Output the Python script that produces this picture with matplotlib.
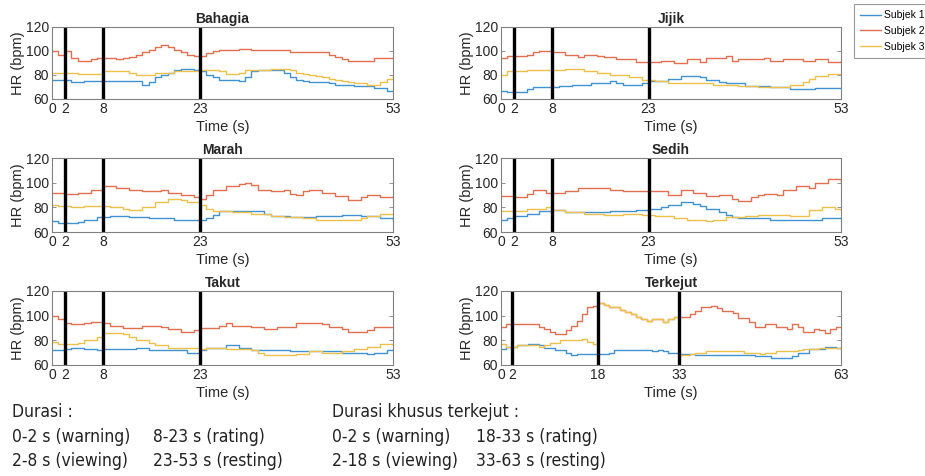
import numpy as np
import matplotlib
matplotlib.use("Agg")
import matplotlib.pyplot as plt
from matplotlib import font_manager

# data (bpm, one value per second)
bahagia_s1 = [76,76,76,74,74,75,75,75,75,75,75,75,75,75,72,74,78,80,82,84,85,85,84,83,80,78,76,76,76,75,78,83,84,84,84,84,82,78,76,75,74,74,74,73,72,72,72,71,71,71,69,69,67,67]
bahagia_s2 = [100,97,100,94,92,92,93,94,94,94,93,94,95,97,99,101,103,105,103,101,99,97,96,96,98,100,101,101,101,102,102,101,101,101,101,101,101,99,99,99,99,99,99,97,95,93,92,92,92,92,94,94,94,94]
bahagia_s3 = [82,82,82,82,81,81,81,81,83,83,83,83,82,80,80,80,82,82,82,83,83,83,83,84,84,84,83,81,81,82,84,84,84,84,85,85,85,84,82,81,80,79,78,77,76,75,74,73,73,72,72,74,77,80]

jijik_s1 = [67,66,66,66,68,70,70,70,70,71,71,72,72,72,73,73,73,75,73,72,72,72,73,75,75,75,77,77,79,79,79,78,76,76,74,73,73,73,71,71,71,71,70,70,70,68,68,68,68,69,69,69,69,69]
jijik_s2 = [94,96,96,96,97,99,100,100,99,99,97,97,95,97,97,96,95,95,93,93,93,91,91,91,91,92,92,90,90,93,93,91,94,94,94,96,92,93,93,93,93,94,92,92,93,93,93,92,92,93,93,91,91,92]
jijik_s3 = [80,83,83,83,84,84,84,84,84,84,85,85,85,83,83,82,82,80,80,80,78,78,76,76,75,75,73,73,73,73,73,73,73,72,72,72,72,71,71,71,70,70,70,70,70,72,72,74,77,79,79,81,81,81]

marah_s1 = [69,67,67,67,68,70,70,72,72,73,73,73,72,72,72,71,71,71,71,70,70,70,70,70,71,74,77,77,77,77,77,77,77,75,73,73,73,72,72,72,72,73,73,73,73,74,74,74,73,73,73,71,71,70]
marah_s2 = [92,92,91,91,92,92,94,94,97,97,96,96,94,94,93,93,93,94,92,92,90,90,88,87,90,94,94,97,97,99,100,98,94,94,93,93,94,91,90,93,94,94,92,92,89,89,86,86,88,90,90,88,88,89]
marah_s3 = [82,81,81,80,80,81,81,81,81,80,80,79,78,78,80,80,84,84,87,87,86,84,84,82,79,77,77,77,76,76,76,75,75,75,73,73,72,72,72,71,71,70,70,70,70,70,70,70,71,73,73,75,75,75]

sedih_s1 = [70,71,73,73,75,75,77,77,78,78,76,76,76,76,76,76,76,77,77,77,77,78,78,79,79,80,82,82,84,84,83,81,79,79,76,74,72,71,71,71,71,71,70,70,70,70,70,70,70,70,71,71,71,71]
sedih_s2 = [89,89,88,88,91,94,94,92,92,92,93,93,96,96,96,96,96,94,94,93,93,93,93,93,93,93,90,90,94,94,92,92,89,89,90,90,87,85,85,88,90,91,91,90,94,94,97,97,96,100,100,103,103,100]
sedih_s3 = [77,77,77,77,79,79,79,80,78,78,76,76,76,75,75,75,74,74,74,75,75,75,74,74,73,73,73,71,71,70,70,70,69,70,70,72,72,72,73,73,74,74,74,74,74,73,73,73,78,78,80,80,79,78]

takut_s1 = [72,72,73,74,74,73,73,72,73,73,73,73,73,74,74,72,72,72,72,72,72,70,70,72,74,74,74,76,76,74,74,72,72,72,72,72,72,71,71,71,71,71,71,71,71,70,70,70,70,69,70,70,72,72]
takut_s2 = [100,97,94,93,93,94,95,95,94,92,92,90,90,90,92,92,92,91,89,89,87,87,88,90,90,90,92,94,92,92,92,91,91,89,89,91,91,91,94,94,94,94,93,91,91,89,87,87,87,88,91,91,91,91]
takut_s3 = [79,77,77,77,78,80,80,83,86,86,86,85,83,80,80,78,76,76,74,74,74,74,74,73,74,74,74,73,73,73,73,72,70,68,68,68,68,68,69,69,71,71,70,70,70,71,71,73,73,75,75,77,77,77]

terkejut_s1 = [73,75,75,76,76,77,77,76,74,74,72,72,70,68,69,69,69,69,69,69,70,72,72,72,72,72,72,72,71,72,71,70,70,69,69,69,68,68,68,68,68,68,68,68,68,68,68,67,67,67,66,66,66,66,67,70,70,73,73,73,75,75,74,73]
terkejut_s3 = [77,75,75,76,76,76,76,75,76,78,78,80,80,80,80,81,79,77,110,109,107,107,105,103,101,99,97,96,97,97,95,97,99,68,68,69,70,70,71,71,71,71,71,71,71,70,70,70,69,70,70,71,71,71,71,72,73,73,73,74,74,74,74,75]
terkejut_s2 = [91,93,93,93,93,93,93,91,89,87,85,85,88,92,96,101,107,108] + terkejut_s3[18:33] + \
    [99,99,101,104,107,107,108,106,104,104,102,98,98,95,91,91,93,93,91,91,89,93,91,87,87,89,88,86,89,91,91]

titles = ["Bahagia", "Jijik", "Marah", "Sedih", "Takut", "Terkejut"]
series = [
    (bahagia_s1, bahagia_s2, bahagia_s3),
    (jijik_s1, jijik_s2, jijik_s3),
    (marah_s1, marah_s2, marah_s3),
    (sedih_s1, sedih_s2, sedih_s3),
    (takut_s1, takut_s2, takut_s3),
    (terkejut_s1, terkejut_s2, terkejut_s3),
]
markers_normal = [2, 8, 23]
markers_kejut = [2, 18, 33]
labels = ["Subjek 1", "Subjek 2", "Subjek 3"]
colors = ["#3f93d2", "#e2704f", "#eec04a"]

plt.rcParams['font.family'] = ['Liberation Sans', 'DejaVu Sans']

fig = plt.figure(figsize=(9.25, 4.76), dpi=100)
W, H = 925, 476
# axes boxes in pixels (left, top, right, bottom)
lefts = [52, 501]
rights = [393, 841]
tops = [27, 158, 291]
bottoms = [99, 232, 365]

handles = []
for i, (title, data) in enumerate(zip(titles, series)):
    r, c = divmod(i, 2)
    l, rt = lefts[c], rights[c]
    t, b = tops[r], bottoms[r]
    ax = fig.add_axes([l / W, 1 - b / H, (rt - l) / W, (b - t) / H])
    tmax = len(data[0]) - 1
    t_axis = np.arange(len(data[0]))
    for vals, col, lab in zip(data, colors, labels):
        h, = ax.plot(t_axis, vals, drawstyle='steps-post', color=col, lw=1.0, label=lab)
        if i == 0:
            handles.append(h)
    marks = markers_kejut if title == "Terkejut" else markers_normal
    for m in marks:
        ax.axvline(m, color='black', lw=2.4)
    ax.set_xlim(0, tmax)
    ax.set_ylim(60, 120)
    ax.set_xticks([0] + marks + [tmax])
    ax.set_yticks([60, 80, 100, 120])
    ax.tick_params(direction='in', length=3, width=0.6, labelsize=10,
                   colors='#808080', labelcolor='#262626', top=True, right=True,
                   labeltop=False, labelright=False, pad=2)
    for s in ax.spines.values():
        s.set_color('#808080')
        s.set_linewidth(0.8)
    ax.set_title(title, fontsize=10, fontweight='bold', color='#262626', pad=3)
    ax.set_xlabel("Time (s)", fontsize=10.5, color='#262626', labelpad=3)
    ax.set_ylabel("HR (bpm)", fontsize=10.5, color='#262626', labelpad=1)

leg = fig.legend(handles, labels, loc='upper left', bbox_to_anchor=(854 / W, 1 - 4 / H),
                 fontsize=7.5, frameon=True, fancybox=False, edgecolor='#808080',
                 handlelength=2.0, handletextpad=0.3, borderpad=0.6, labelspacing=0.55,
                 borderaxespad=0)
leg.get_frame().set_linewidth(0.8)

# duration notes: narrow font if one is available
names = {f.name for f in font_manager.fontManager.ttflist}
stretch = 'normal'
fs = 12
if 'Liberation Sans Narrow' in names:
    note_font = ['Liberation Sans Narrow', 'DejaVu Sans']
    fs = 13
else:
    cond = font_manager.findfont(font_manager.FontProperties(family='DejaVu Sans', stretch='condensed'))
    if 'Condensed' in cond:
        note_font = ['DejaVu Sans', 'Liberation Sans']
        stretch = 'condensed'
        fs = 12.5
    else:
        note_font = ['Liberation Sans', 'DejaVu Sans']
kw = dict(fontsize=fs, family=note_font, stretch=stretch, va='center', color='#222222')
fig.text(12 / W, 1 - 412 / H, "Durasi :", **kw)
fig.text(12 / W, 1 - 437 / H, "0-2 s (warning)", **kw)
fig.text(12 / W, 1 - 461 / H, "2-8 s (viewing)", **kw)
fig.text(153 / W, 1 - 437 / H, "8-23 s (rating)", **kw)
fig.text(153 / W, 1 - 461 / H, "23-53 s (resting)", **kw)
fig.text(332 / W, 1 - 412 / H, "Durasi khusus terkejut :", **kw)
fig.text(332 / W, 1 - 437 / H, "0-2 s (warning)", **kw)
fig.text(332 / W, 1 - 461 / H, "2-18 s (viewing)", **kw)
fig.text(476 / W, 1 - 437 / H, "18-33 s (rating)", **kw)
fig.text(476 / W, 1 - 461 / H, "33-63 s (resting)", **kw)

fig.savefig("out.png", dpi=100)
